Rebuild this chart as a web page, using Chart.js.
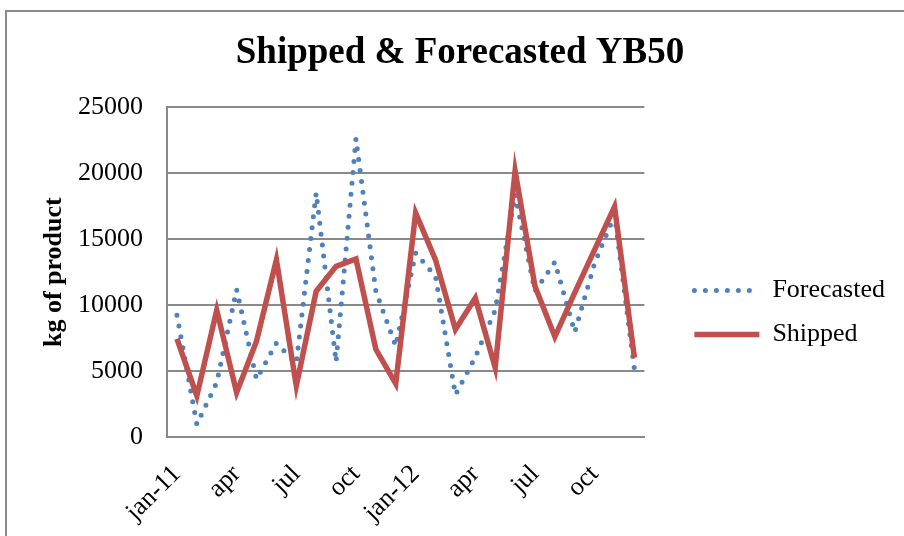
<!DOCTYPE html>
<html>
<head>
<meta charset="utf-8">
<script src="https://cdn.jsdelivr.net/npm/chart.js@4"></script>
<style>
  html, body { margin: 0; padding: 0; background: #fff; overflow: hidden; }
  #frame { position: absolute; left: 5px; top: 10px; width: 1000px; height: 1000px;
           border-left: 2px solid #8a8a8a; border-top: 2px solid #8a8a8a; }
  #c { position: absolute; left: 0; top: 0; }
</style>
</head>
<body>
<div id="frame"></div>
<canvas id="c" width="904" height="536"></canvas>
<script>
const categories = ['jan-11','feb','mar','apr','may','jun','jul','aug','sep','oct','nov','dec',
                    'jan-12','feb','mar','apr','may','jun','jul','aug','sep','oct','nov','dec'];
const forecasted = [9240, 960, 4130, 11180, 4380, 7120, 5600, 18530, 5690, 22630, 11050, 6900,
                    13950, 12180, 3200, 6050, 9620, 18400, 11050, 13270, 7950, 13190, 16850, 5140];
const shipped = [7450, 3120, 9620, 3370, 7270, 13440, 3880, 11050, 12940, 13500, 6650, 4050,
                 17000, 13440, 8160, 10550, 5260, 20190, 11430, 7600, 10950, 14210, 17470, 6020];
const yTicks = [0, 5000, 10000, 15000, 20000, 25000];

const serif = "'Liberation Serif', 'Times New Roman', serif";
const gridCol = '#8a8a8a';

new Chart(document.getElementById('c'), {
  type: 'line',
  data: {
    labels: categories,
    datasets: [
      { label: 'Forecasted', data: forecasted, borderColor: '#4F81BD', backgroundColor: '#4F81BD',
        borderWidth: 5, borderDash: [0, 11], borderCapStyle: 'round', pointRadius: 0,
        tension: 0, fill: false, order: 1 },
      { label: 'Shipped', data: shipped, borderColor: '#C0504D', backgroundColor: '#C0504D',
        borderWidth: 5.5, borderJoinStyle: 'miter', borderCapStyle: 'butt', pointRadius: 0,
        tension: 0, fill: false, order: 0 }
    ]
  },
  options: {
    responsive: false,
    animation: false,
    devicePixelRatio: 1,
    layout: { padding: { left: 25, right: 9, top: 0, bottom: 0 } },
    plugins: {
      tooltip: { enabled: false },
      title: { display: true, text: 'Shipped & Forecasted YB50', color: '#000',
               font: { family: serif, size: 37, weight: 'bold' },
               padding: { top: 31, bottom: 32 } },
      legend: {
        position: 'right',
        align: 'center',
        maxWidth: 300,
        title: { display: true, text: '', padding: { top: 88, bottom: 0 }, font: { size: 1, lineHeight: 1 } },
        labels: {
          usePointStyle: true, pointStyle: 'line', pointStyleWidth: 65,
          padding: 18, color: '#000',
          font: { family: serif, size: 26 },
          sort: (a, b) => a.datasetIndex - b.datasetIndex,
          generateLabels: (chart) => {
            const items = Chart.defaults.plugins.legend.labels.generateLabels(chart);
            items.forEach(it => {
              const ds = chart.data.datasets[it.datasetIndex];
              it.lineDash = ds.borderDash || [];
              it.lineCap = ds.borderCapStyle;
              it.lineWidth = ds.borderWidth;
              it.strokeStyle = ds.borderColor;
              it.fillStyle = ds.borderColor;
              it.pointStyle = 'line';
            });
            return items;
          }
        }
      }
    },
    scales: {
      x: {
        offset: true,
        grid: { display: false, drawTicks: false },
        border: { display: true, color: gridCol, width: 2 },
        ticks: {
          autoSkip: false, maxRotation: 45, minRotation: 45, padding: 22, color: '#000',
          font: { family: serif, size: 26 },
          callback: (v, i) => (i % 3 === 0 ? categories[i] : '')
        },
        afterFit: s => { s.height = 99; }
      },
      y: {
        min: yTicks[0], max: yTicks[yTicks.length - 1],
        grid: { color: gridCol, lineWidth: 2, drawTicks: false },
        border: { display: true, color: gridCol, width: 2 },
        ticks: { stepSize: 5000, padding: 24, color: '#000', font: { family: serif, size: 26 },
                 callback: v => String(v) },
        title: { display: true, text: 'kg of product', color: '#000',
                 font: { family: serif, size: 26, weight: 'bold' }, padding: { top: 14, bottom: 0 } },
        afterFit: s => { s.width = 142; }
      },
      gap: {
        type: 'linear', position: 'right', display: true,
        grid: { display: false, drawTicks: false }, border: { display: false },
        ticks: { display: false },
        afterFit: s => { s.width = 32; }
      }
    }
  }
});
</script>
</body>
</html>
